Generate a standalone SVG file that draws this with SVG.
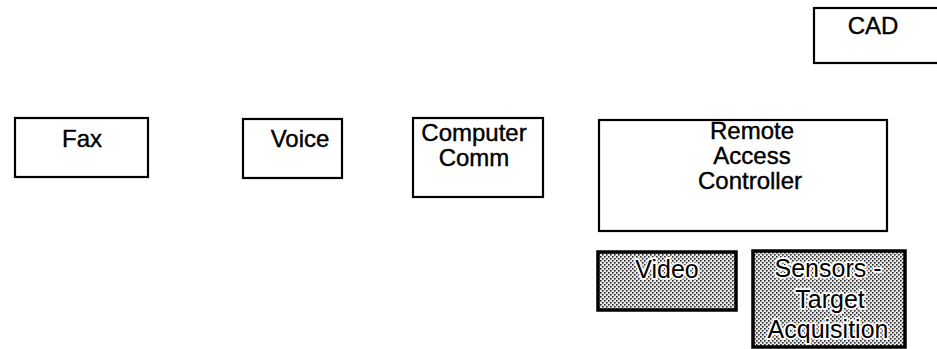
<svg xmlns="http://www.w3.org/2000/svg" width="937" height="349" viewBox="0 0 937 349">
  <defs>
    <!-- fine dot screen for the shaded sub-units -->
    <pattern id="dots" width="4" height="4" patternUnits="userSpaceOnUse">
      <rect width="4" height="4" fill="#e8e8e8"/>
      <rect x="0" y="0" width="1.6" height="1.6" fill="#2a2a2a"/>
      <rect x="2" y="2" width="1.6" height="1.6" fill="#2a2a2a"/>
    </pattern>
  </defs>
  <style>
    .box { fill: #fff; stroke: #000; stroke-width: 2.2; }
    .shaded { fill: url(#dots); stroke: #000; stroke-width: 3.5; }
    .lbl { font-family: "Liberation Sans", Arial, sans-serif; font-size: 24px; fill: #000; stroke: #000; stroke-width: 0.4; text-anchor: middle; }
    .halo { font-size: 25px; paint-order: stroke; stroke: #fff; stroke-width: 3.5; stroke-linejoin: round; }
  </style>
  <rect width="937" height="349" fill="#fff"/>

  <g id="connectors"></g>

  <g id="cad">
    <rect class="box" x="814" y="8" width="130" height="55"/>
    <text class="lbl" x="873" y="34">CAD</text>
  </g>

  <g id="fax">
    <rect class="box" x="15" y="118" width="133" height="59"/>
    <text class="lbl" x="82" y="147">Fax</text>
  </g>

  <g id="voice">
    <rect class="box" x="243" y="119" width="99" height="59"/>
    <text class="lbl" x="300" y="147">Voice</text>
  </g>

  <g id="computer-comm">
    <rect class="box" x="413" y="118" width="130" height="79"/>
    <text class="lbl" x="474" y="141">Computer</text>
    <text class="lbl" x="474" y="166">Comm</text>
  </g>

  <g id="remote-access-controller">
    <rect class="box" x="599" y="120" width="288" height="111"/>
    <text class="lbl" x="752" y="139">Remote</text>
    <text class="lbl" x="752" y="164">Access</text>
    <text class="lbl" x="750" y="189">Controller</text>
  </g>

  <g id="video">
    <rect class="shaded" x="598" y="252" width="138" height="58"/>
    <text class="lbl halo" x="667" y="278">Video</text>
  </g>

  <g id="sensors">
    <rect class="shaded" x="753" y="251" width="152" height="96"/>
    <text class="lbl halo" x="828" y="277">Sensors -</text>
    <text class="lbl halo" x="830" y="308">Target</text>
    <text class="lbl halo" x="828" y="338">Acquisition</text>
  </g>
</svg>
